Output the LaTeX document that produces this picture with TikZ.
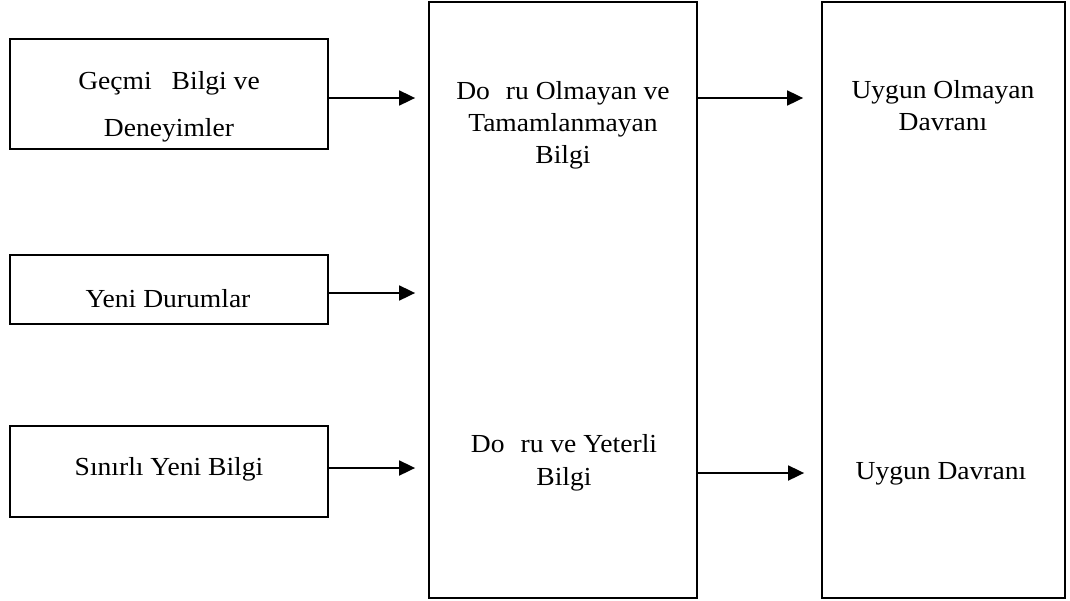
\documentclass[tikz,border=0pt]{standalone}
\usepackage{fontspec}
\setmainfont{Liberation Serif}[FakeStretch=1.06]
\usetikzlibrary{arrows.meta}
\begin{document}
\begin{tikzpicture}[x=0.5pt,y=-0.5pt,
  box/.style={draw, line width=0.9pt, inner sep=0pt},
  lbl/.style={font=\fontsize{13}{15.8}\selectfont, align=center, anchor=base, inner sep=0pt},
  arr/.style={line width=0.9pt, -{Triangle[length=8pt,width=7.5pt]}}]
\useasboundingbox (0,0) rectangle (1070,600);

% input boxes on the left
\node[box, minimum width=159pt, minimum height=55pt]   (b1) at (169,94)    {};
\node[box, minimum width=159pt, minimum height=34.5pt] (b2) at (169,289.5) {};
\node[box, minimum width=159pt, minimum height=45.5pt] (b3) at (169,471.5) {};

% tall knowledge and behaviour columns
\node[box, minimum width=134pt,   minimum height=298pt] (mid) at (563,300)   {};
\node[box, minimum width=121.5pt, minimum height=298pt] (rgt) at (943.5,300) {};

% labels (multi-line labels sit on the baseline of their last line)
\node[lbl, font=\fontsize{13}{23.5}\selectfont] (t1) at (169,136)
  {Geçmi\hspace{10pt}Bilgi ve\\Deneyimler};
\node[lbl] (t2) at (168,307) {Yeni Durumlar};
\node[lbl] (t3) at (169,475) {Sınırlı Yeni Bilgi};
\node[lbl] (t4) at (563,163)
  {Do\hspace{8pt}ru Olmayan ve\\Tamamlanmayan\\Bilgi};
\node[lbl, font=\fontsize{13}{16.5}\selectfont] (t5) at (564,485)
  {Do\hspace{8pt}ru ve Yeterli\\Bilgi};
\node[lbl, font=\fontsize{13}{16}\selectfont] (t6) at (943,130)
  {Uygun Olmayan\\Davranı};
\node[lbl] (t7) at (941,479) {Uygun Davranı};

% arrow heights
\coordinate (y1) at (0,98);
\coordinate (y2) at (0,293);
\coordinate (y3) at (0,468);
\coordinate (y4) at (0,473);

% connectors
\draw[arr, shorten >=6.5pt] (b1.east |- y1) -- (mid.west |- y1);
\draw[arr, shorten >=6.5pt] (b2.east |- y2) -- (mid.west |- y2);
\draw[arr, shorten >=6.5pt] (b3.east |- y3) -- (mid.west |- y3);
\draw[arr, shorten >=9pt]   (mid.east |- y1) -- (rgt.west |- y1);
\draw[arr, shorten >=8.5pt] (mid.east |- y4) -- (rgt.west |- y4);
\end{tikzpicture}
\end{document}
